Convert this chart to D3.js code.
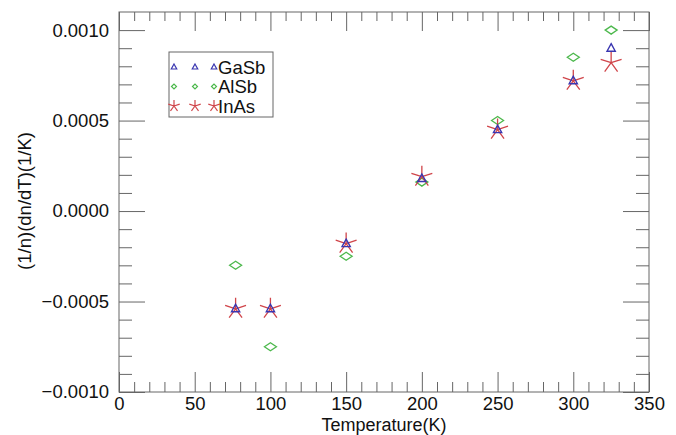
<!DOCTYPE html>
<html><head><meta charset="utf-8">
<script src="https://cdn.jsdelivr.net/npm/d3@7"></script>
<style>body{margin:0;background:#fff}svg{display:block}text{font-family:"Liberation Sans",Arial,Helvetica,sans-serif}</style>
</head><body>
<svg id="c" width="676" height="435"></svg>
<script>
const temps = [77, 100, 150, 200, 250, 300, 325];
const gasb = [-0.00054, -0.00054, -0.00018, 0.00018, 0.00045, 0.00072, 0.00090];
const alsb = [-0.00030, -0.00075, -0.00025, 0.00016, 0.00050, 0.00085, 0.00100];
const inas = [-0.00054, -0.00054, -0.00018, 0.00019, 0.00045, 0.00072, 0.00082];
const xTicks = [0, 50, 100, 150, 200, 250, 300, 350];
const yTicks = [-0.0010, -0.0005, 0.0000, 0.0005, 0.0010];
const seriesNames = ["GaSb", "AlSb", "InAs"];

const svg = d3.select("#c");
const L = 119, R = 649, T = 12, B = 392;
const FS = "18.5px";
const x = d3.scaleLinear().domain([0, 350]).range([L, R]);
const y = d3.scaleLinear().domain([-0.0010, 0.0011]).range([B, T]);
const axisCol = "#666";

svg.append("rect").attr("x", L).attr("y", T).attr("width", R - L).attr("height", B - T)
  .attr("fill", "none").attr("stroke", axisCol).attr("stroke-width", 1);

function styleAxis(g) {
  g.select(".domain").remove();
  g.selectAll("line").attr("stroke", axisCol);
  g.selectAll("text").attr("fill", "#111").style("font-size", FS);
}
const xMinor = d3.range(0, 351, 10).filter(v => v % 50 !== 0);
const yMinor = d3.range(-10, 11, 1).filter(v => v % 5 !== 0).map(v => v * 0.0001);

// bottom
svg.append("g").attr("transform", `translate(0,${B})`)
  .call(d3.axisBottom(x).tickValues(xTicks).tickSize(-20).tickPadding(4.5).tickFormat(d3.format("d")))
  .call(styleAxis);
svg.append("g").attr("transform", `translate(0,${B})`)
  .call(d3.axisBottom(x).tickValues(xMinor).tickSize(-10).tickFormat(""))
  .call(styleAxis);
// top
svg.append("g").attr("transform", `translate(0,${T})`)
  .call(d3.axisTop(x).tickValues(xTicks).tickSize(-19).tickFormat(""))
  .call(styleAxis);
svg.append("g").attr("transform", `translate(0,${T})`)
  .call(d3.axisTop(x).tickValues(xMinor).tickSize(-9).tickFormat(""))
  .call(styleAxis);
// left
svg.append("g").attr("transform", `translate(${L},0)`)
  .call(d3.axisLeft(y).tickValues(yTicks).tickSize(-26).tickPadding(10).tickFormat(d3.format(".4f")))
  .call(styleAxis);
svg.append("g").attr("transform", `translate(${L},0)`)
  .call(d3.axisLeft(y).tickValues(yMinor).tickSize(-13).tickFormat(""))
  .call(styleAxis);
// right
svg.append("g").attr("transform", `translate(${R},0)`)
  .call(d3.axisRight(y).tickValues(yTicks).tickSize(-26).tickFormat(""))
  .call(styleAxis);
svg.append("g").attr("transform", `translate(${R},0)`)
  .call(d3.axisRight(y).tickValues(yMinor).tickSize(-13).tickFormat(""))
  .call(styleAxis);

// titles
svg.append("text").attr("x", 384).attr("y", 431).attr("text-anchor", "middle")
  .style("font-size", "18px").attr("fill", "#111").text("Temperature(K)");
svg.append("text").attr("transform", `translate(31,201) rotate(-90)`)
  .attr("text-anchor", "middle").style("font-size", FS).attr("fill", "#111")
  .text("(1/n)(dn/dT)(1/K)");

// symbol generators
const triPath = s => `M0,${-s * 0.6}L${s * 0.55},${s * 0.4}L${-s * 0.55},${s * 0.4}Z`;
const diaPath = (w, h) => `M${-w / 2},0L0,${-h / 2}L${w / 2},0L0,${h / 2}Z`;
const starPath = r => {
  let p = "";
  for (let i = 0; i < 5; i++) {
    const a = -Math.PI / 2 + i * 2 * Math.PI / 5;
    p += `M0,0L${(r * Math.cos(a)).toFixed(2)},${(r * Math.sin(a)).toFixed(2)}`;
  }
  return p;
};
const colors = { GaSb: "#3a36b0", AlSb: "#4cb84c", InAs: "#d0454a" };

const plot = svg.append("g");
const mk = (vals, name, path, sw) => plot.selectAll(null).data(temps.map((t, i) => [t, vals[i]]))
  .enter().append("path")
  .attr("transform", d => `translate(${x(d[0])},${y(d[1])})`)
  .attr("d", path).attr("fill", "none").attr("stroke", colors[name]).attr("stroke-width", sw);
mk(alsb, "AlSb", diaPath(12, 8), 1.3);
mk(inas, "InAs", starPath(11), 1.3);
mk(gasb, "GaSb", triPath(7.5), 1.4);

// legend
const lg = svg.append("g");
lg.append("rect").attr("x", 169).attr("y", 52).attr("width", 104).attr("height", 65)
  .attr("fill", "#fff").attr("stroke", axisCol).attr("stroke-width", 1);
const legendPaths = [triPath(5), diaPath(5, 5), starPath(6)];
seriesNames.forEach((name, i) => {
  const yy = 67 + i * 19.5;
  [174, 195, 214].forEach(xx => {
    lg.append("path").attr("transform", `translate(${xx},${yy})`).attr("d", legendPaths[i])
      .attr("fill", "none").attr("stroke", colors[name]).attr("stroke-width", 1.2);
  });
  lg.append("text").attr("x", 218).attr("y", yy + 6.5).style("font-size", FS)
    .attr("fill", "#111").text(name);
});
</script>
</body></html>
